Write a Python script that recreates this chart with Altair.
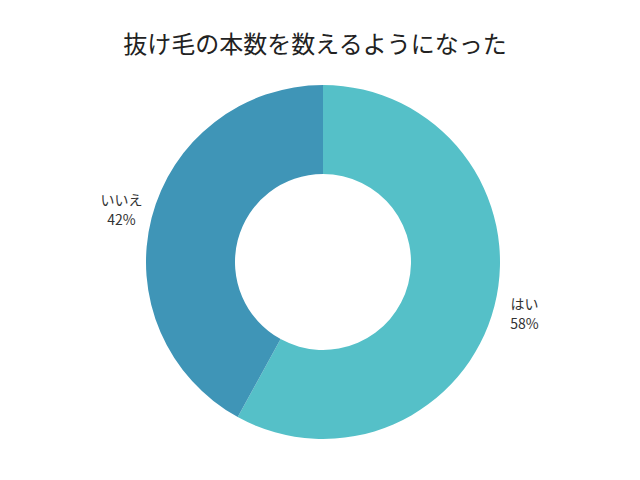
import altair as alt
import pandas as pd

categories = ["はい", "いいえ"]
values = [58, 42]
labels = ["はい\n58%", "いいえ\n42%"]
colors = ["#55C0C8", "#3F95B7"]
title_text = "抜け毛の本数を数えるようになった"

df = pd.DataFrame({"cat": categories, "value": values, "label": labels, "order": [0, 1]})

FONT = "Noto Sans CJK JP"
CX, CY = 323, 262

base = alt.Chart(df).encode(
    theta=alt.Theta("value:Q", stack=True),
    order=alt.Order("order:Q"),
)

arcs = base.mark_arc(outerRadius=177, innerRadius=88, stroke=None).encode(
    color=alt.Color("cat:N", scale=alt.Scale(domain=categories, range=colors), legend=None),
    x=alt.value(CX),
    y=alt.value(CY),
)

texts = base.mark_text(
    radius=208, font=FONT, fontSize=14, color="#333333",
    lineBreak="\n", lineHeight=20, align="center", baseline="middle", dy=-9,
).encode(
    text="label:N",
    x=alt.value(CX),
    y=alt.value(CY),
)

title = alt.Chart(pd.DataFrame({"t": [title_text]})).mark_text(
    font=FONT, fontSize=24, color="#222222", align="center", baseline="middle"
).encode(text="t:N", x=alt.value(315), y=alt.value(46))

chart = alt.layer(arcs, texts, title).properties(
    width=640, height=480,
    autosize=alt.AutoSizeParams(type="none"),
    padding=0,
    background="white",
).configure_view(stroke=None)

chart.save("out.html", embed_options={"renderer": "svg", "actions": False})
